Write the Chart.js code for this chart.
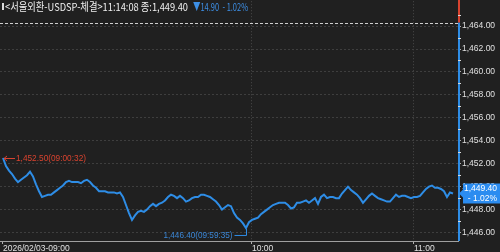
<!DOCTYPE html>
<html><head><meta charset="utf-8">
<script src="https://cdn.jsdelivr.net/npm/chart.js@4"></script>
<style>html,body{margin:0;padding:0;background:#202020;overflow:hidden}canvas{display:block}</style>
</head><body>
<div style="width:500px;height:252px;position:relative"><canvas id="c" width="500" height="252"></canvas></div>
<script>
// ---- data ----
const prices = [
1452.5,1451.8,1451.4,1451.1,1450.7,1450.4,1450.6,1450.8,1451.0,1451.3,
1450.9,1450.2,1449.6,1449.1,1449.2,1449.3,1449.3,1449.5,1449.7,1449.9,
1450.1,1450.4,1450.5,1450.4,1450.4,1450.4,1450.3,1450.5,1450.6,1450.4,
1450.1,1449.9,1449.6,1449.6,1449.6,1449.5,1449.5,1449.5,1449.4,1449.5,
1449.1,1448.4,1447.7,1447.1,1447.5,1447.8,1447.9,1447.8,1448.0,1448.3,
1448.5,1448.3,1448.5,1448.6,1448.8,1449.1,1449.3,1449.2,1449.0,1449.2,
1449.0,1448.7,1448.8,1449.0,1449.1,1449.1,1449.3,1449.3,1449.2,1449.1,
1448.9,1448.7,1448.4,1448.0,1448.2,1448.4,1448.3,1447.7,1447.3,1447.1,
1446.8,1446.4,1446.9,1447.1,1447.2,1447.3,1447.6,1447.8,1448.0,1448.2,
1448.4,1448.5,1448.6,1448.6,1448.6,1448.4,1448.1,1448.2,1448.6,1448.6,
1448.7,1448.8,1448.6,1448.8,1449.0,1448.5,1449.1,1449.3,1449.0,1449.1,
1449.1,1449.0,1449.0,1449.4,1449.7,1450.0,1449.7,1449.5,1449.3,1449.0,
1448.6,1448.9,1449.2,1449.4,1449.2,1449.0,1448.9,1448.8,1448.7,1448.7,
1449.0,1449.3,1449.1,1449.2,1449.2,1449.1,1449.0,1449.1,1449.1,1449.2,
1449.5,1449.8,1450.0,1450.1,1449.9,1449.9,1449.8,1449.6,1449.1,1449.5,
1449.4];
const timeTickIndex = [0, 83, 137];
const timeTickLabels = ['2026/02/03-09:00', '10:00', '11:00'];
const priceTicks = [1446, 1448, 1450, 1452, 1454, 1456, 1458, 1460, 1462, 1464];
const instrument = '서울외환-USDSP-체결';
const lastTime = '11:14:08';
const prevClose = 1464.30;
const lastPrice = 1449.40;
const priceChange = -14.90;
const changePct = -1.02;
const highPoint = {index: 0, value: 1452.50, time: '09:00:32'};
const lowPoint = {index: 81, value: 1446.40, time: '09:59:35'};

// ---- helpers ----
const fmt = v => Number(v).toLocaleString('en-US', {minimumFractionDigits: 2, maximumFractionDigits: 2});
function hasFont(name) {
  const c = document.createElement('canvas').getContext('2d');
  const s = '1,464.00 abcWMx';
  c.font = '20px monospace'; const a = c.measureText(s).width;
  c.font = '20px "' + name + '", monospace'; const b = c.measureText(s).width;
  return Math.abs(a - b) > 0.5;
}
const narrow = hasFont('Liberation Sans Narrow');
const tickFamily = narrow ? '"Liberation Sans Narrow", "Liberation Sans", sans-serif' : '"Liberation Sans", sans-serif';
const tickSize = narrow ? 10 : 8.5;

function drawFit(ctx, text, x, y, w) {
  const m = ctx.measureText(text).width;
  ctx.save(); ctx.translate(x, y); ctx.scale(w / m, 1); ctx.fillText(text, 0, 0); ctx.restore();
}

const BLUE = '#2e8de6';
const RED = '#d9432f';

const overlay = {
  id: 'overlay',
  beforeDatasetsDraw(chart) {
    const {ctx, chartArea: a, scales: {y}} = chart;
    const py = Math.round(y.getPixelForValue(prevClose)) + 0.5;
    ctx.save();
    ctx.strokeStyle = '#cfcfcf'; ctx.lineWidth = 1; ctx.setLineDash([3, 2]);
    ctx.beginPath(); ctx.moveTo(a.left, py); ctx.lineTo(a.right, py); ctx.stroke();
    ctx.restore();
  },
  afterDatasetsDraw(chart) {
    const {ctx, scales: {x, y}} = chart;
    ctx.save();
    ctx.font = '9px "Liberation Sans", sans-serif';
    ctx.textBaseline = 'middle';
    // high marker
    const hx = x.getPixelForValue(highPoint.index), hy = Math.round(y.getPixelForValue(highPoint.value)) + 0.5;
    ctx.strokeStyle = RED; ctx.fillStyle = RED; ctx.lineWidth = 1;
    ctx.beginPath(); ctx.moveTo(hx + 1, hy); ctx.lineTo(hx + 12, hy);
    ctx.moveTo(hx + 1, hy); ctx.lineTo(hx + 4, hy - 2.5);
    ctx.moveTo(hx + 1, hy); ctx.lineTo(hx + 4, hy + 2.5); ctx.stroke();
    drawFit(ctx, fmt(highPoint.value) + '(' + highPoint.time + ')', hx + 13, hy, 70);
    // low marker
    const lx = Math.round(x.getPixelForValue(lowPoint.index)) + 0.5, ly = y.getPixelForValue(lowPoint.value);
    const ty = ly + 7.5;
    ctx.strokeStyle = BLUE; ctx.fillStyle = '#3a86d6';
    ctx.beginPath(); ctx.moveTo(lx, ly + 1); ctx.lineTo(lx, ty); ctx.lineTo(lx - 12, ty); ctx.stroke();
    ctx.textAlign = 'left';
    drawFit(ctx, fmt(lowPoint.value) + '(' + lowPoint.time + ')', lx - 83, ty, 69);
    ctx.restore();
  },
  afterDraw(chart) {
    const {ctx, chartArea: a, scales: {y}} = chart;
    ctx.save();
    // right axis bar: red above previous close, blue below
    const pc = y.getPixelForValue(prevClose);
    ctx.fillStyle = RED; ctx.fillRect(a.right, 0, 2, pc);
    ctx.fillStyle = BLUE; ctx.fillRect(a.right, pc, 2, a.bottom - pc);
    // minor ticks at odd values
    ctx.fillStyle = '#d8d8d8';
    for (let v = priceTicks[0] - 1; v <= priceTicks[priceTicks.length - 1] + 1; v += 2) {
      const p = Math.round(y.getPixelForValue(v));
      if (p > 0 && p < a.bottom) ctx.fillRect(a.right, p, 3, 1);
    }
    // current price box
    const ly = y.getPixelForValue(lastPrice);
    ctx.fillStyle = '#2b8cf0';
    ctx.beginPath();
    ctx.moveTo(a.right + 1, ly);
    ctx.lineTo(a.right + 5, ly - 4);
    ctx.lineTo(a.right + 5, ly - 10);
    ctx.lineTo(500, ly - 10);
    ctx.lineTo(500, ly + 10);
    ctx.lineTo(a.right + 5, ly + 10);
    ctx.lineTo(a.right + 5, ly + 4);
    ctx.closePath(); ctx.fill();
    ctx.fillStyle = '#ffffff';
    ctx.font = tickSize + 'px ' + tickFamily;
    ctx.textBaseline = 'middle'; ctx.textAlign = 'right';
    ctx.fillText(fmt(lastPrice), 497, ly - 4.5);
    ctx.fillText('- ' + Math.abs(changePct).toFixed(2) + '%', 497, ly + 5);
    // title
    ctx.textAlign = 'left';
    ctx.fillStyle = '#dcdcdc';
    ctx.fillRect(2, 3, 2, 7);
    ctx.font = '11px "Noto Sans CJK KR", sans-serif';
    ctx.fillStyle = '#f0f0f0';
    drawFit(ctx, '<' + instrument + '>' + lastTime + ' 종:' + fmt(lastPrice), 5, 6.5, 183);
    ctx.fillStyle = '#3d8fe6';
    drawFit(ctx, (priceChange < 0 ? '▼' : '▲') + fmt(Math.abs(priceChange)) + '  - ' + Math.abs(changePct).toFixed(2) + '%', 193, 6.5, 55);
    ctx.restore();
  }
};

new Chart(document.getElementById('c'), {
  type: 'line',
  data: {
    datasets: [{
      data: prices.map((v, i) => ({x: i, y: v})),
      borderColor: BLUE, borderWidth: 2, pointRadius: 0, fill: false, tension: 0
    }]
  },
  options: {
    animation: false, responsive: false, maintainAspectRatio: false,
    layout: {padding: 0},
    plugins: {legend: {display: false}, tooltip: {enabled: false}},
    scales: {
      x: {
        type: 'linear', min: -1, max: 151.67,
        afterBuildTicks: s => { s.ticks = timeTickIndex.map(v => ({value: v})); },
        afterFit: s => { s.height = 11; },
        ticks: {
          autoSkip: false, maxRotation: 0, align: 'start', padding: 0,
          color: '#e0e0e0', font: {size: tickSize, family: tickFamily, lineHeight: 1},
          callback: v => { const k = timeTickIndex.indexOf(v); return k >= 0 ? timeTickLabels[k] : ''; }
        },
        grid: {
          color: c => (c.index === 0 ? 'rgba(0,0,0,0)' : '#4a4a4a'),
          lineWidth: 1, drawTicks: true, tickLength: 3, tickColor: '#b0b0b0'
        },
        border: {display: true, color: '#a0a0a0', width: 1, dash: [1, 2]}
      },
      y: {
        type: 'linear', position: 'right', min: 1445.263, max: 1466.169,
        afterBuildTicks: s => { s.ticks = priceTicks.map(v => ({value: v})); },
        afterFit: s => { s.width = 42; },
        ticks: {
          padding: 1, color: '#e0e0e0',
          font: {size: tickSize, family: tickFamily, lineHeight: 0.05},
          callback: v => fmt(v)
        },
        grid: {color: '#3e3e3e', lineWidth: 1, drawTicks: true, tickLength: 3, tickColor: '#b0b0b0'},
        border: {display: false, dash: [2, 2]}
      }
    }
  },
  plugins: [overlay]
});
</script>
</body></html>
